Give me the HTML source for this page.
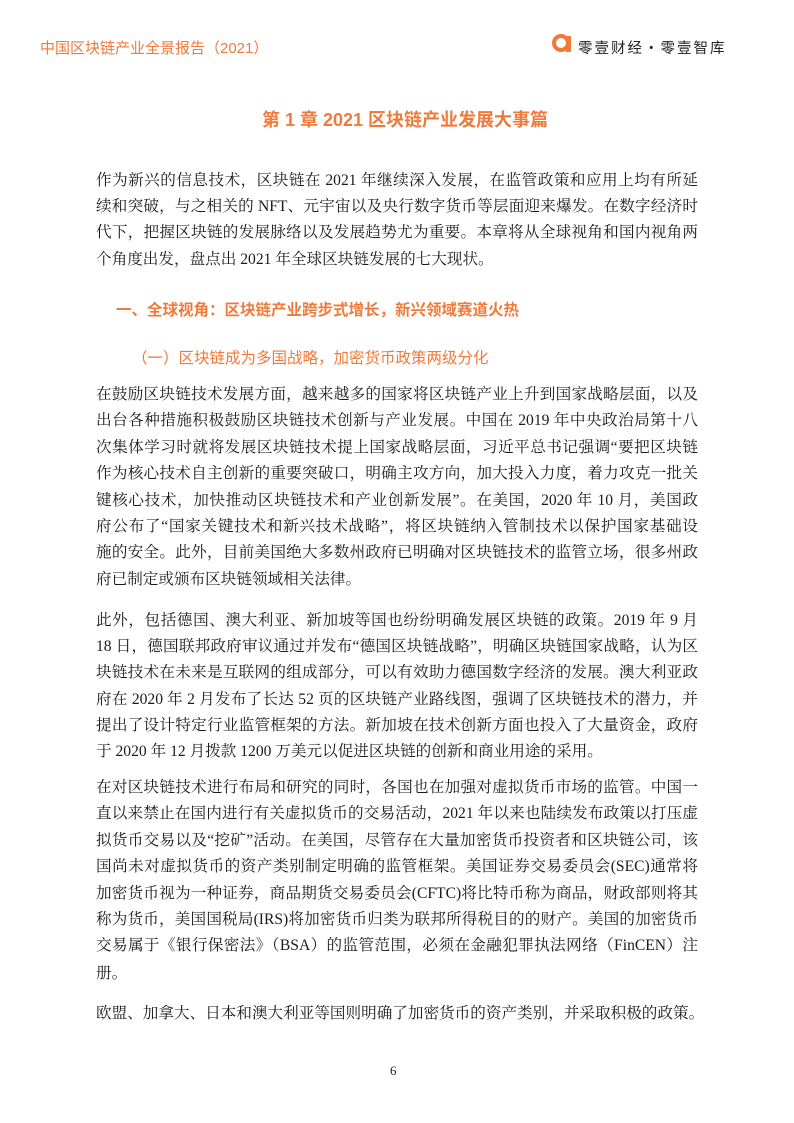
<!DOCTYPE html>
<html><head><meta charset="utf-8"><style>
body{margin:0;background:#fff;}
.pg{position:relative;width:794px;height:1123px;overflow:hidden;font-family:"Liberation Serif","Noto Serif CJK SC",serif;color:#1a1a1a;}
.l{position:absolute;left:96px;width:602px;font-size:15.6px;line-height:26px;height:26px;white-space:nowrap;text-align:justify;text-align-last:justify;}
.l.e{text-align-last:left;}
.o{color:#f07a3a;font-family:"Liberation Sans","Noto Sans CJK SC",sans-serif;position:absolute;white-space:nowrap;}
</style></head><body><div class="pg">
<div class="o" style="left:40px;top:37px;font-size:15px;">中国区块链产业全景报告（2021）</div>
<div style="position:absolute;left:552px;top:34px;width:18px;height:18px;border-radius:50%;border:4px solid #f07a3a;box-sizing:border-box;"></div>
<div style="position:absolute;left:566px;top:36px;width:5px;height:16px;background:#f07a3a;"></div>
<div style="position:absolute;left:578px;top:37px;font-size:14.5px;letter-spacing:2px;font-family:'Noto Sans CJK SC',sans-serif;color:#222;white-space:nowrap;">零壹财经·零壹智库</div>
<div class="o" style="left:262px;top:106px;font-size:18px;font-weight:bold;">第 1 章 2021 区块链产业发展大事篇</div>
<div class="l" style="top:168px">作为新兴的信息技术，区块链在 2021 年继续深入发展，在监管政策和应用上均有所延</div>
<div class="l" style="top:194.2px">续和突破，与之相关的 NFT、元宇宙以及央行数字货币等层面迎来爆发。在数字经济时</div>
<div class="l" style="top:220.4px">代下，把握区块链的发展脉络以及发展趋势尤为重要。本章将从全球视角和国内视角两</div>
<div class="l e" style="top:246.6px">个角度出发，盘点出 2021 年全球区块链发展的七大现状。</div>
<div class="o" style="left:116px;top:298px;font-size:15.5px;font-weight:bold;">一、全球视角：区块链产业跨步式增长，新兴领域赛道火热</div>
<div class="o" style="left:132px;top:346px;font-size:15.5px;">（一）区块链成为多国战略，加密货币政策两级分化</div>
<div class="l" style="top:382px">在鼓励区块链技术发展方面，越来越多的国家将区块链产业上升到国家战略层面，以及</div>
<div class="l" style="top:408.4px">出台各种措施积极鼓励区块链技术创新与产业发展。中国在 2019 年中央政治局第十八</div>
<div class="l" style="top:434.8px">次集体学习时就将发展区块链技术提上国家战略层面，习近平总书记强调“要把区块链</div>
<div class="l" style="top:461.2px">作为核心技术自主创新的重要突破口，明确主攻方向，加大投入力度，着力攻克一批关</div>
<div class="l" style="top:487.6px">键核心技术，加快推动区块链技术和产业创新发展”。在美国，2020 年 10 月，美国政</div>
<div class="l" style="top:514px">府公布了“国家关键技术和新兴技术战略”，将区块链纳入管制技术以保护国家基础设</div>
<div class="l" style="top:540.4px">施的安全。此外，目前美国绝大多数州政府已明确对区块链技术的监管立场，很多州政</div>
<div class="l e" style="top:566.8px">府已制定或颁布区块链领域相关法律。</div>
<div class="l" style="top:608px">此外，包括德国、澳大利亚、新加坡等国也纷纷明确发展区块链的政策。2019 年 9 月</div>
<div class="l" style="top:634.2px">18 日，德国联邦政府审议通过并发布“德国区块链战略”，明确区块链国家战略，认为区</div>
<div class="l" style="top:660.4px">块链技术在未来是互联网的组成部分，可以有效助力德国数字经济的发展。澳大利亚政</div>
<div class="l" style="top:686.6px">府在 2020 年 2 月发布了长达 52 页的区块链产业路线图，强调了区块链技术的潜力，并</div>
<div class="l" style="top:712.8px">提出了设计特定行业监管框架的方法。新加坡在技术创新方面也投入了大量资金，政府</div>
<div class="l e" style="top:739px">于 2020 年 12 月拨款 1200 万美元以促进区块链的创新和商业用途的采用。</div>
<div class="l" style="top:775px">在对区块链技术进行布局和研究的同时，各国也在加强对虚拟货币市场的监管。中国一</div>
<div class="l" style="top:801.4px">直以来禁止在国内进行有关虚拟货币的交易活动，2021 年以来也陆续发布政策以打压虚</div>
<div class="l" style="top:827.8px">拟货币交易以及“挖矿”活动。在美国，尽管存在大量加密货币投资者和区块链公司，该</div>
<div class="l" style="top:854.2px">国尚未对虚拟货币的资产类别制定明确的监管框架。美国证券交易委员会(SEC)通常将</div>
<div class="l" style="top:880.6px">加密货币视为一种证券，商品期货交易委员会(CFTC)将比特币称为商品，财政部则将其</div>
<div class="l" style="top:907px">称为货币，美国国税局(IRS)将加密货币归类为联邦所得税目的的财产。美国的加密货币</div>
<div class="l" style="top:933.4px">交易属于《银行保密法》（BSA）的监管范围，必须在金融犯罪执法网络（FinCEN）注</div>
<div class="l e" style="top:960.8px">册。</div>
<div class="l" style="top:1001px">欧盟、加拿大、日本和澳大利亚等国则明确了加密货币的资产类别，并采取积极的政策。</div>
<div style="position:absolute;left:390px;top:1063px;font-size:13px;">6</div>
</div></body></html>
